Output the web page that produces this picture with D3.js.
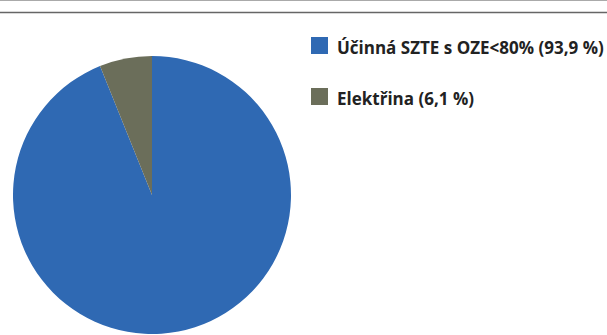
<!DOCTYPE html>
<html><head><meta charset="utf-8">
<script src="https://cdn.jsdelivr.net/npm/d3@7"></script>
<style>body{margin:0;background:#fff}svg{display:block}</style>
</head><body>
<svg id="c" width="607" height="335"></svg>
<script>
const categories = ["Účinná SZTE s OZE<80%", "Elektřina"];
const values = [93.9, 6.1];
const valueLabels = ["93,9 %", "6,1 %"];
const colors = ["#2f69b3", "#6b6e5a"];

const svg = d3.select("#c");
// scanned page rules at top
svg.append("line").attr("x1",0).attr("x2",607).attr("y1",0.5).attr("y2",0.5).attr("stroke","#aaa").attr("stroke-width",1);
svg.append("line").attr("x1",0).attr("x2",607).attr("y1",12.5).attr("y2",12.5).attr("stroke","#666").attr("stroke-width",1.3);

const cx = 152, cy = 195, r = 139;
const pie = d3.pie().sort(null).value(d => d).startAngle(0).endAngle(2*Math.PI);
const arc = d3.arc().innerRadius(0).outerRadius(r);
svg.append("g").attr("transform",`translate(${cx},${cy})`)
  .selectAll("path").data(pie(values)).join("path")
  .attr("d", arc).attr("fill", (d,i) => colors[i]);

const lg = svg.append("g");
categories.forEach((c,i) => {
  const y = 37 + i*51;
  lg.append("rect").attr("x",311).attr("y",y).attr("width",17).attr("height",17).attr("fill",colors[i]);
  lg.append("text").attr("x",337).attr("y",y+17)
    .attr("font-family","'Open Sans', sans-serif").attr("font-weight","bold").attr("font-size",17)
    .attr("fill","#222")
    .text(`${c} (${valueLabels[i]})`);
});
</script>
</body></html>
